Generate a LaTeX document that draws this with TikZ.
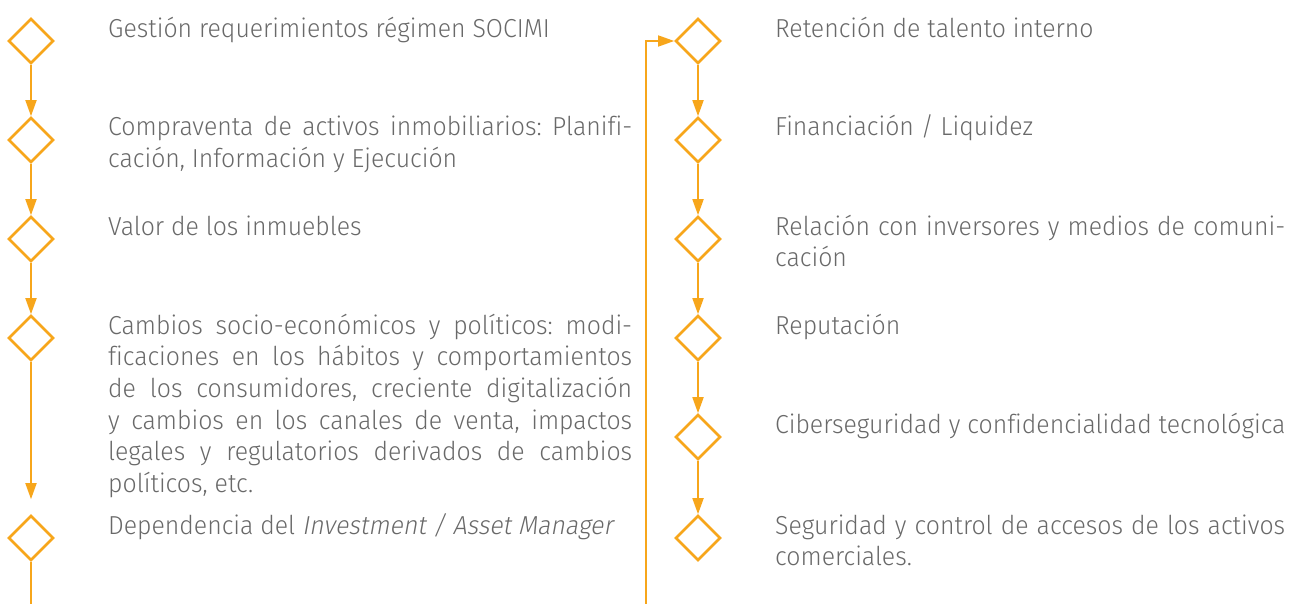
\documentclass[tikz,border=0pt]{standalone}
\usepackage{fontspec}
\setmainfont{Fira Sans}[UprightFont=* Light, ItalicFont=* Light, ItalicFeatures={FakeSlant=0.18}, FakeStretch=0.955, Ligatures=NoCommon]
\usetikzlibrary{shapes.geometric,arrows.meta,calc}
\definecolor{orng}{RGB}{247,166,27}
\definecolor{txtgray}{RGB}{105,105,105}
\frenchspacing
\begin{document}
\begin{tikzpicture}[x=1pt,y=-1pt,
  dia/.style={diamond, draw=orng, line width=2.6pt, minimum width=45pt, minimum height=45pt, inner sep=0pt},
  conn/.style={draw=orng, line width=1.8pt, -{Triangle[length=16pt,width=11pt]}},
  plain/.style={draw=orng, line width=1.8pt},
  lbl/.style={anchor=base west, text=txtgray, font=\fontsize{26}{31.7}\selectfont\frenchspacing, inner sep=0pt},
  para/.style={lbl, align=justify}]
\useasboundingbox (0,0) rectangle (1290,604);

% left column diamonds
\node[dia] (L1) at (31,41) {};
\node[dia] (L2) at (31,140) {};
\node[dia] (L3) at (31,239) {};
\node[dia] (L4) at (31,338) {};
\node[dia] (L5) at (31,538) {};
% right column diamonds
\node[dia] (R1) at (698,41) {};
\node[dia] (R2) at (698,140) {};
\node[dia] (R3) at (698,239) {};
\node[dia] (R4) at (698,338) {};
\node[dia] (R5) at (698,437) {};
\node[dia] (R6) at (698,538) {};

% left texts
\node[lbl] (T1) at (108,38) {Gestión requerimientos régimen SOCIMI};
\node[para, text width=524pt] (T2) at (108,136) {Compraventa de activos inmobiliarios: Planifi-\linebreak cación, Información y Ejecución};
\node[lbl] (T3) at (108,235) {Valor de los inmuebles};
\node[para, text width=524pt] (T4) at (108,334) {Cambios socio-económicos y políticos: modi-\linebreak ficaciones en los hábitos y comportamientos\linebreak de los consumidores, creciente digitalización\linebreak y cambios en los canales de venta, impactos\linebreak legales y regulatorios derivados de cambios\linebreak políticos, etc.};
\node[lbl] (T5) at (108,534) {Dependencia del \textit{Investment / Asset Manager}};

% right texts
\node[lbl] (U1) at (775,38) {Retención de talento interno};
\node[lbl] (U2) at (775,136) {Financiación / Liquidez};
\node[para, text width=510pt] (U3) at (775,235) {Relación con inversores y medios de comuni-\linebreak cación};
\node[lbl] (U4) at (775,334) {Reputación};
\node[lbl] (U5) at (775,433) {Ciberseguridad y confidencialidad tecnológica};
\node[para, text width=510pt] (U6) at (775,534) {Seguridad y control de accesos de los activos\linebreak comerciales.};

% left connectors
\draw[conn] (L1.south) -- (L2.north);
\draw[conn] (L2.south) -- (L3.north);
\draw[conn] (L3.south) -- (L4.north);
\coordinate (L5gap) at ($(L5.north)+(0,-15)$);
\draw[conn] (L4.south) -- (L5gap);
\coordinate (Lend) at (31,604);
\draw[plain] (L5.south) -- (Lend);

% right connectors
\draw[conn] (R1.south) -- (R2.north);
\draw[conn] (R2.south) -- (R3.north);
\draw[conn] (R3.south) -- (R4.north);
\draw[conn] (R4.south) -- (R5.north);
\draw[conn] (R5.south) -- (R6.north);
\coordinate (Rstart) at (646,604);
\draw[conn, line width=1.5pt] (Rstart) |- (R1.west);
\end{tikzpicture}
\end{document}
